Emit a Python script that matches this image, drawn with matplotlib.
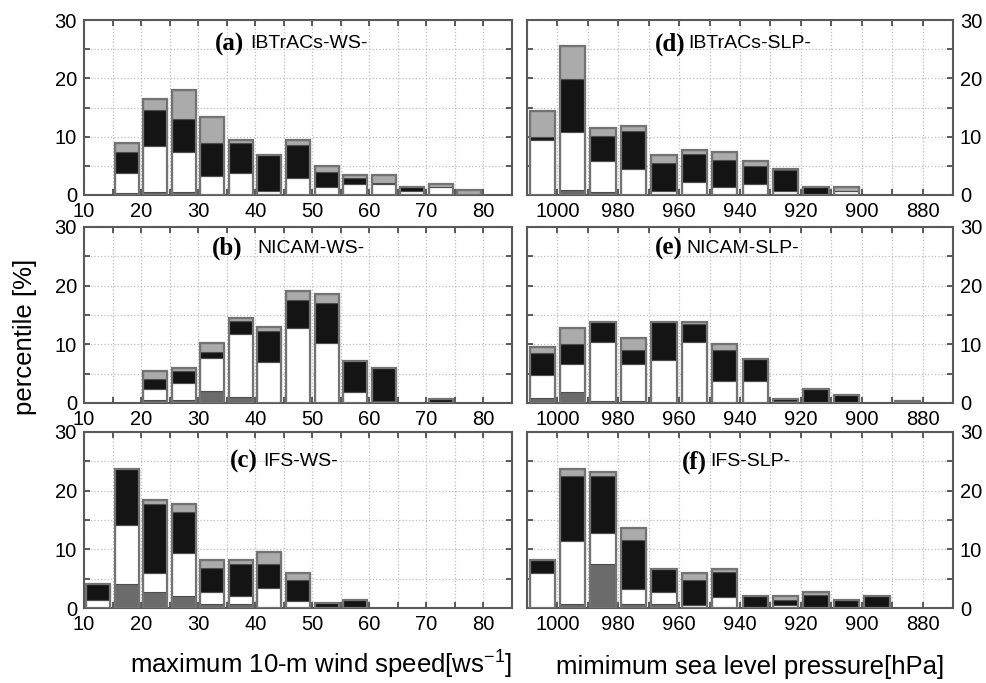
import numpy as np
import matplotlib
matplotlib.use('Agg')
import matplotlib.pyplot as plt
from matplotlib.ticker import MultipleLocator

plt.rcParams['font.family'] = ['Liberation Sans', 'DejaVu Sans']
plt.rcParams['mathtext.fontset'] = 'custom'
plt.rcParams['mathtext.rm'] = 'Liberation Sans'
plt.rcParams['mathtext.it'] = 'Liberation Sans'
plt.rcParams['axes.unicode_minus'] = False

# bin centres
ws_centers = [12.5, 17.5, 22.5, 27.5, 32.5, 37.5, 42.5, 47.5, 52.5, 57.5, 62.5, 67.5, 72.5, 77.5]
slp_centers = [1005, 995, 985, 975, 965, 955, 945, 935, 925, 915, 905, 895, 885, 875]

# stacked components, bottom to top: dark gray, white, black, light gray
a_dark = [0, 0.4, 0.5, 0.45, 0, 0, 0, 0, 0, 0, 0, 0, 0, 0]
a_white = [0, 3.4, 7.9, 6.85, 3.3, 3.8, 0.75, 2.9, 1.3, 1.8, 1.9, 0.7, 1.3, 0]
a_black = [0, 3.6, 6.2, 5.7, 5.6, 5.1, 6.15, 5.6, 2.7, 1.1, 0.1, 0.7, 0, 0]
a_light = [0, 1.45, 1.9, 5.0, 4.5, 0.5, 0, 0.9, 1.0, 0.5, 1.4, 0, 0.6, 0.9]

b_dark = [0, 0, 0.55, 0.57, 2.0, 1.1, 0, 0, 0, 0, 0, 0, 0, 0]
b_white = [0, 0, 1.9, 2.9, 5.6, 10.6, 7.0, 12.7, 10.15, 1.9, 0.4, 0, 0, 0]
b_black = [0, 0, 1.6, 1.9, 1.1, 2.2, 5.3, 4.9, 6.95, 5.2, 5.6, 0, 0.6, 0]
b_light = [0, 0, 1.45, 0.6, 1.45, 0.55, 0.6, 1.5, 1.4, 0, 0, 0, 0, 0]

c_dark = [0, 4.1, 2.7, 2.0, 0.7, 0.7, 0, 0, 0, 0, 0, 0, 0, 0]
c_white = [1.3, 10.05, 3.35, 7.3, 1.95, 1.4, 3.4, 1.25, 0, 0, 0, 0, 0, 0]
c_black = [2.8, 9.6, 11.65, 7.0, 4.15, 5.4, 4.1, 3.55, 0.8, 1.3, 0, 0, 0, 0]
c_light = [0, 0, 0.7, 1.35, 1.3, 0.6, 2.0, 1.25, 0, 0, 0, 0, 0, 0]

d_dark = [0, 0.86, 0.45, 0, 0, 0, 0, 0, 0, 0, 0, 0, 0, 0]
d_white = [9.4, 9.9, 5.4, 4.4, 0.75, 2.3, 1.3, 1.8, 0.75, 0, 0.6, 0, 0, 0]
d_black = [0.6, 9.2, 4.2, 6.6, 4.7, 4.7, 4.7, 3.2, 3.45, 1.3, 0, 0, 0, 0]
d_light = [4.4, 5.5, 1.4, 0.9, 1.4, 0.8, 1.4, 0.9, 0.3, 0, 0.7, 0, 0, 0]

e_dark = [0.85, 1.9, 0.4, 0.4, 0, 0, 0, 0, 0, 0, 0, 0, 0, 0]
e_white = [3.85, 4.8, 10.0, 6.3, 7.4, 10.4, 3.7, 3.7, 0.4, 0, 0, 0, 0, 0]
e_black = [3.85, 3.4, 3.4, 2.3, 6.4, 3.0, 5.3, 3.8, 0.35, 2.3, 1.4, 0, 0.4, 0]
e_light = [1.0, 2.6, 0, 2.1, 0, 0.4, 1.1, 0, 0, 0, 0, 0, 0, 0]

f_dark = [0, 0.7, 7.5, 0.7, 0.7, 0, 0, 0, 0, 0, 0, 0, 0, 0]
f_white = [5.9, 10.7, 5.35, 2.6, 1.96, 0.55, 1.9, 0, 0.5, 0, 0, 0, 0, 0]
f_black = [2.2, 11.1, 9.65, 8.3, 4.04, 4.25, 4.2, 2.0, 0.9, 2.15, 1.3, 2.0, 0, 0]
f_light = [0, 1.15, 0.7, 2.0, 0, 1.25, 0.6, 0, 0.6, 0.5, 0, 0, 0, 0]

ws_titles = ['IBTrACs-WS-', 'NICAM-WS-', 'IFS-WS-']
slp_titles = ['IBTrACs-SLP-', 'NICAM-SLP-', 'IFS-SLP-']

colors = ['#6b6b6b', 'white', '#141414', '#ababab']

fig = plt.figure(figsize=(9.87, 6.83), dpi=100)

left_x, left_w = 84 / 987, 428 / 987
right_x, right_w = 527 / 987, 426 / 987
rows = [(0.7145, 0.2562), (0.41, 0.2577), (0.1098, 0.2577)]


def draw_panel(ax, centers, parts, width):
    centers = np.array(centers, dtype=float)
    bottom = np.zeros(len(centers))
    for vals, col in zip(parts, colors):
        vals = np.array(vals, dtype=float)
        m = vals > 0
        ax.bar(centers[m], vals[m], width=width, bottom=bottom[m], color=col,
               edgecolor='0.3', linewidth=0.8, zorder=3)
        bottom += vals
    m = bottom > 0
    ax.bar(centers[m], bottom[m], width=width, fill=False,
           edgecolor='0.45', linewidth=1.6, zorder=4)


def style(ax, right=False):
    ax.set_ylim(0, 30)
    ax.yaxis.set_major_locator(MultipleLocator(10))
    ax.yaxis.set_minor_locator(MultipleLocator(5))
    ax.tick_params(which='both', direction='in', top=True, right=True,
                   length=4, width=1.3, color='0.3', labelsize=14.5, pad=5)
    if right:
        ax.tick_params(axis='y', labelleft=False, labelright=True)
    ax.grid(which='both', linestyle=':', color='#bdbdbd', linewidth=0.9, zorder=0)
    ax.set_axisbelow(True)
    for s in ax.spines.values():
        s.set_color('0.35')
        s.set_linewidth(1.5)


def title(ax, letter, text, xr, xl, y):
    ax.text(xr, y, '(' + letter + ')', transform=ax.transAxes, ha='right', va='center',
            family='Liberation Serif', fontweight='bold', fontsize=18, zorder=6)
    ax.text(xl, y, text, transform=ax.transAxes, ha='left', va='center',
            fontsize=14, zorder=6)


ws_parts = [(a_dark, a_white, a_black, a_light),
            (b_dark, b_white, b_black, b_light),
            (c_dark, c_white, c_black, c_light)]
slp_parts = [(d_dark, d_white, d_black, d_light),
             (e_dark, e_white, e_black, e_light),
             (f_dark, f_white, f_black, f_light)]

ws_pos = [(0.374, 0.388), (0.371, 0.404), (0.407, 0.418)]
slp_pos = [(0.371, 0.378), (0.366, 0.373), (0.423, 0.430)]
title_y = [0.863, 0.88, 0.83]

for i, (bottom, height) in enumerate(rows):
    ax = fig.add_axes([left_x, bottom, left_w, height])
    draw_panel(ax, ws_centers, ws_parts[i], 4.2)
    ax.set_xlim(10, 85)
    ax.xaxis.set_major_locator(MultipleLocator(10))
    ax.xaxis.set_minor_locator(MultipleLocator(5))
    style(ax)
    title(ax, 'abc'[i], ws_titles[i], ws_pos[i][0], ws_pos[i][1], title_y[i])

    ax = fig.add_axes([right_x, bottom, right_w, height])
    draw_panel(ax, slp_centers, slp_parts[i], 8.3)
    ax.set_xlim(1010, 870)
    ax.xaxis.set_major_locator(MultipleLocator(20))
    ax.xaxis.set_minor_locator(MultipleLocator(10))
    style(ax, right=True)
    title(ax, 'def'[i], slp_titles[i], slp_pos[i][0], slp_pos[i][1], title_y[i])

fig.text(25 / 987, 0.507, 'percentile [%]', rotation=90, ha='center', va='center', fontsize=18.5)
fig.text(321 / 987, 0.026, 'maximum 10-m wind speed[ws$^{-1}$]', ha='center', va='center',
         fontsize=18.5)
fig.text(750 / 987, 0.024, 'mimimum sea level pressure[hPa]', ha='center', va='center',
         fontsize=18.5)

fig.savefig('out.png', dpi=100)
